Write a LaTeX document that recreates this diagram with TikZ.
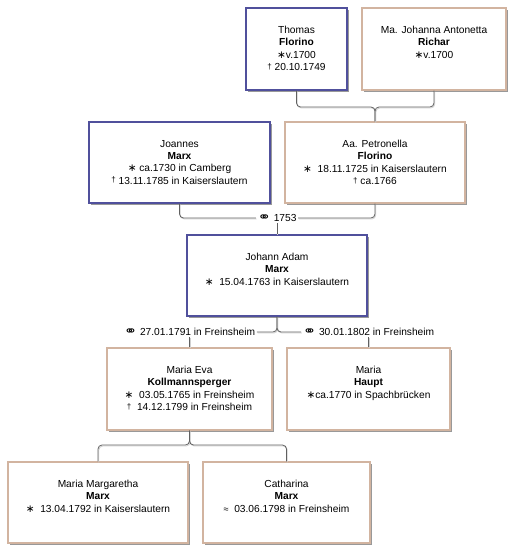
\documentclass[tikz,border=0pt]{standalone}
\usepackage{fontspec}
\usepackage{graphicx}
\setmainfont{Liberation Sans}
\newfontfamily\symf{DejaVu Sans}
\usetikzlibrary{shadows}
\definecolor{maleblue}{HTML}{50509C}
\definecolor{femtan}{HTML}{D2B4A0}
\definecolor{lineclr}{HTML}{606060}
\newcommand\bth{{\symf\fontsize{10.5}{10}\selectfont ∗}}
\newcommand\dg{\raisebox{1.2pt}{\fontsize{8}{8}\selectfont †}}
\newcommand\bpt{{\fontsize{9}{9}\selectfont ≈}}
\newcommand\mar{\raisebox{0.3pt}{\scalebox{1.6}[1.25]{\symf\fontsize{10}{10}\selectfont ⚭}}}
\tikzset{
  conn/.style={draw=lineclr, line width=0.8pt, rounded corners=4pt,
    preaction={draw=black!18, line width=0.8pt, transform canvas={shift={(0.8pt,-1pt)}}}},
  pbox/.style={line width=1.1pt, fill=white, inner sep=0pt,
    drop shadow={shadow xshift=2pt, shadow yshift=-2pt, fill=black!40, opacity=1}},
  male/.style={pbox, draw=maleblue},
  female/.style={pbox, draw=femtan},
  txt/.style={anchor=north, inner sep=0pt, align=center, yshift=-18.5pt,
    font=\fontsize{10.2}{12.3}\selectfont},
  mlabel/.style={inner sep=1.5pt, fill=white, font=\fontsize{10.2}{12}\selectfont}
}
\begin{document}
\begin{tikzpicture}[x=1pt,y=-1pt]
\useasboundingbox (0,0) rectangle (521,559);
% boxes
\node[male,  minimum width=101pt, minimum height=82pt] (thomas)  at (296.5,49) {};
\node[female,minimum width=144pt, minimum height=82pt] (richar)  at (434,49) {};
\node[male,  minimum width=181pt, minimum height=81pt] (joannes) at (179.5,162.5) {};
\node[female,minimum width=180pt, minimum height=81pt] (pet)     at (375,162.5) {};
\node[male,  minimum width=180pt, minimum height=81pt] (johann)  at (277,275.5) {};
\node[female,minimum width=165pt, minimum height=82pt] (eva)     at (189.5,389) {};
\node[female,minimum width=163pt, minimum height=82pt] (haupt)   at (368.5,389) {};
\node[female,minimum width=180pt, minimum height=81pt] (marg)    at (98,502.5) {};
\node[female,minimum width=167pt, minimum height=81pt] (cath)    at (286.5,502.5) {};
% texts
\node[txt] (thomasT)  at (thomas.north)  {Thomas\\\textbf{Florino}\\\bth v.1700\\\dg\ 20.10.1749};
\node[txt] (richarT)  at (richar.north)  {Ma. Johanna Antonetta\\\textbf{Richar}\\\bth v.1700};
\node[txt] (joannesT) at (joannes.north) {Joannes\\\textbf{Marx}\\\bth\ ca.1730 in Camberg\\\dg\ 13.11.1785 in Kaiserslautern};
\node[txt] (petT)     at (pet.north)     {Aa. Petronella\\\textbf{Florino}\\\bth\ \ 18.11.1725 in Kaiserslautern\\\dg\ ca.1766};
\node[txt] (johannT)  at (johann.north)  {Johann Adam\\\textbf{Marx}\\\bth\ \ 15.04.1763 in Kaiserslautern};
\node[txt] (evaT)     at (eva.north)     {Maria Eva\\\textbf{Kollmannsperger}\\\bth\ \ 03.05.1765 in Freinsheim\\\dg\ \ 14.12.1799 in Freinsheim};
\node[txt] (hauptT)   at (haupt.north)   {Maria\\\textbf{Haupt}\\\bth ca.1770 in Spachbrücken};
\node[txt] (margT)    at (marg.north)    {Maria Margaretha\\\textbf{Marx}\\\bth\ \ 13.04.1792 in Kaiserslautern};
\node[txt] (cathT)    at (cath.north)    {Catharina\\\textbf{Marx}\\\bpt\ \ 03.06.1798 in Freinsheim};
% parents of Petronella
\coordinate (j1) at (375,107);
\draw[conn] (thomas.south) |- (j1) -- (pet.north);
\draw[conn] (richar.south) |- (j1) -- (pet.north);
% marriage 1753
\node[mlabel] (m1) at (277,218) {\mar\ 1753};
\draw[conn] (joannes.south) |- (m1.west);
\draw[conn] (pet.south) |- (m1.east);
\draw[conn] (m1.south) -- (johann.north);
% marriages of Johann Adam
\node[mlabel] (m2) at (189.5,332) {\mar\ 27.01.1791 in Freinsheim};
\node[mlabel] (m3) at (368.5,332) {\mar\ 30.01.1802 in Freinsheim};
\draw[conn] (johann.south) |- (m2.east);
\draw[conn] (johann.south) |- (m3.west);
\draw[conn] (m2.south) -- (eva.north);
\draw[conn] (m3.south) -- (haupt.north);
% children
\coordinate (j2) at (189.5,445);
\draw[conn] (eva.south) -- (j2) -| (marg.north);
\draw[conn] (eva.south) -- (j2) -| (cath.north);
\end{tikzpicture}
\end{document}
